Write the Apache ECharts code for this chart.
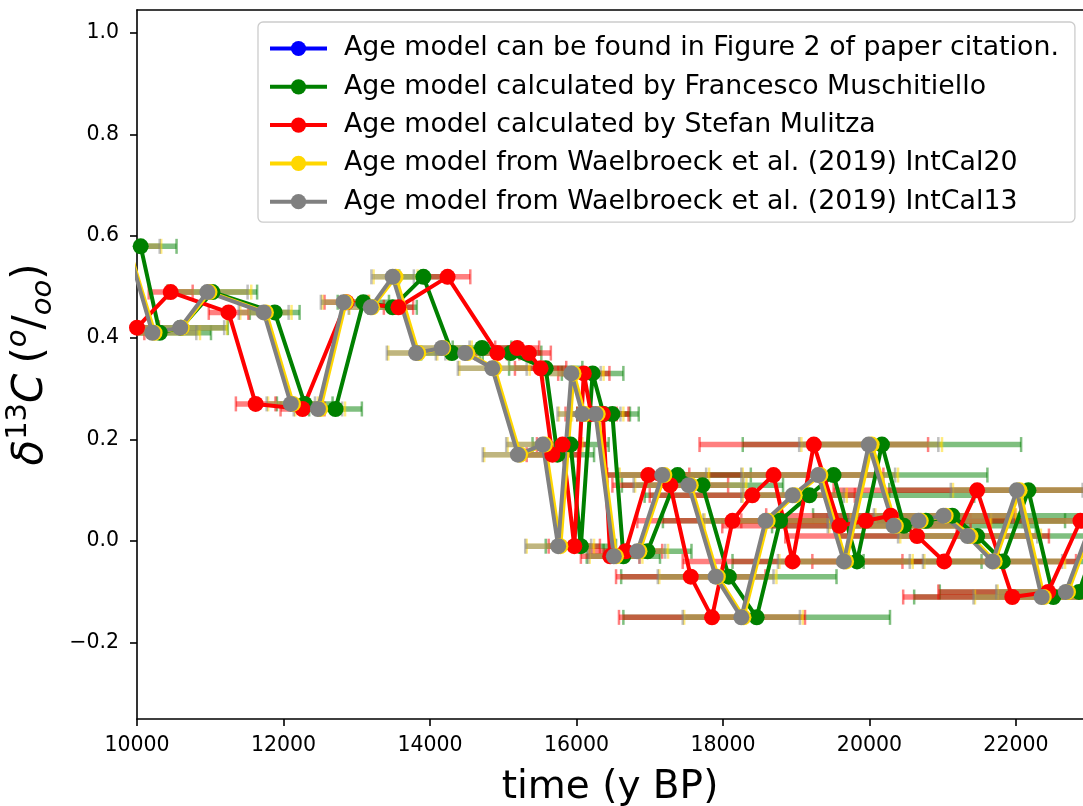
<!DOCTYPE html>
<html><head><meta charset="utf-8">
<script src="https://cdn.jsdelivr.net/npm/echarts@6/dist/echarts.min.js"></script>
<style>html,body{margin:0;padding:0;background:#fff}#c{width:1083px;height:806px}</style>
</head><body><div id="c"></div>
<script>
// ---------------- data ----------------
const seriesNames = [
  'Age model can be found in Figure 2 of paper citation.',
  'Age model calculated by Francesco Muschitiello',
  'Age model calculated by Stefan Mulitza',
  'Age model from Waelbroeck et al. (2019) IntCal20',
  'Age model from Waelbroeck et al. (2019) IntCal13'
];
const seriesColors = ['#0000ff', '#008000', '#ff0000', '#ffd700', '#808080'];
const xTicks = [10000, 12000, 14000, 16000, 18000, 20000, 22000];
const yTicks = [-0.2, 0.0, 0.2, 0.4, 0.6, 0.8, 1.0];

// d13C values (shared by all age models)
const d13C = [0.58, 0.41, 0.42, 0.49, 0.45, 0.27, 0.26, 0.47, 0.46, 0.52,
  0.37, 0.38, 0.37, 0.34, 0.17, 0.19, -0.01, 0.33, 0.25, 0.25,
  -0.03, -0.02, 0.13, 0.11, -0.07, -0.15, 0.04, 0.09, 0.13, -0.04,
  0.19, 0.03, 0.04, 0.05, 0.01, -0.04, 0.10, -0.11, -0.10, 0.04];

// Blue model: no points visible
const ageBlue = [];
const errBlue = [];

// Francesco Muschitiello (green)
const ageGreen = [10050, 10310, 10600, 11030, 11880, 12290, 12710, 13090, 13490, 13910,
  14300, 14710, 15100, 15580, 15740, 15920, 16060, 16220, 16370, 16490,
  16640, 16970, 17380, 17720, 18080, 18460, 18780, 19180, 19510, 19830,
  20170, 20470, 20770, 21130, 21470, 21820, 22170, 22510, 22860, 23200];
const errGreen = [490, 700, 640, 610, 340, 380, 360, 350, 330, 330,
  420, 400, 420, 500, 500, 520, 480, 420, 360, 360,
  500, 600, 1000, 1100, 1470, 1820, 1600, 2250, 2100, 1700,
  1900, 1800, 1900, 1900, 1900, 1900, 1900, 1900, 1900, 1900];

// Stefan Mulitza (red)
const ageRed = [9550, 9800, 10000, 10460, 11250, 11620, 12260, 12860, 13570, 14240,
  14920, 15190, 15350, 15510, 15670, 15810, 15970, 16100, 16200, 16360,
  16460, 16670, 16980, 17280, 17560, 17850, 18130, 18400, 18690, 18950,
  19240, 19590, 19950, 20290, 20650, 21020, 21470, 21950, 22440, 22880];
const errRed = [300, 300, 300, 300, 270, 270, 300, 300, 200, 310,
  300, 300, 300, 350, 350, 350, 350, 350, 350, 350,
  400, 500, 560, 790, 1020, 1270, 1300, 1400, 1500, 1500,
  1560, 1600, 1700, 1700, 1800, 1800, 1960, 1490, 1500, 1500];

// Waelbroeck IntCal20 (yellow)
const ageYellow = [9880, 10240, 10610, 10990, 11760, 12130, 12500, 12850, 13210, 13530,
  13840, 14180, 14510, 14880, 15230, 15570, 15780, 15960, 16110, 16290,
  16540, 16860, 17200, 17560, 17930, 18280, 18610, 18980, 19330, 19680,
  20030, 20360, 20700, 21040, 21380, 21710, 22050, 22380, 22710, 23070];
const errYellow = [450, 620, 620, 570, 350, 340, 340, 320, 310, 300,
  410, 390, 410, 480, 490, 510, 460, 410, 350, 350,
  360, 390, 610, 760, 800, 810, 860, 710, 1060, 910,
  960, 910, 960, 960, 960, 960, 910, 940, 960, 960];

// Waelbroeck IntCal13 (gray)
const ageGray = [9870, 10210, 10590, 10960, 11730, 12100, 12470, 12820, 13190, 13490,
  13810, 14160, 14480, 14850, 15200, 15540, 15750, 15930, 16080, 16260,
  16510, 16830, 17170, 17530, 17900, 18250, 18580, 18950, 19300, 19650,
  19990, 20330, 20670, 21010, 21340, 21680, 22010, 22350, 22680, 23040];
const errGray = [440, 600, 600, 550, 340, 330, 330, 310, 300, 290,
  400, 380, 400, 470, 480, 500, 450, 400, 340, 340,
  350, 380, 600, 750, 790, 800, 850, 700, 1050, 900,
  950, 900, 950, 950, 950, 950, 900, 930, 950, 950];

// ---------------- chart ----------------
const FONT = 'DejaVu Sans';
const ages = [ageBlue, ageGreen, ageRed, ageYellow, ageGray];
const errs = [errBlue, errGreen, errRed, errYellow, errGray];

function rgba(hex, a) {
  const r = parseInt(hex.slice(1, 3), 16), g = parseInt(hex.slice(3, 5), 16), b = parseInt(hex.slice(5, 7), 16);
  return 'rgba(' + r + ',' + g + ',' + b + ',' + a + ')';
}

function errSeries(k) {
  const col = rgba(seriesColors[k], 0.5);
  return {
    type: 'custom', name: 'err' + k, silent: true, clip: true, z: 1,
    encode: { x: 0, y: 1 },
    data: ages[k].map((a, i) => [a, d13C[i], errs[k][i]]),
    renderItem: function (params, api) {
      const x = api.value(0), y = api.value(1), e = api.value(2);
      const p1 = api.coord([x - e, y]), p2 = api.coord([x + e, y]);
      const h = 7.5;
      return {
        type: 'group', children: [
          { type: 'line', shape: { x1: p1[0], y1: p1[1], x2: p2[0], y2: p2[1] }, style: { stroke: col, lineWidth: 5.5 } },
          { type: 'line', shape: { x1: p1[0], y1: p1[1] - h, x2: p1[0], y2: p1[1] + h }, style: { stroke: col, lineWidth: 2.5 } },
          { type: 'line', shape: { x1: p2[0], y1: p2[1] - h, x2: p2[0], y2: p2[1] + h }, style: { stroke: col, lineWidth: 2.5 } }
        ]
      };
    }
  };
}

function lineSeries(k) {
  return {
    type: 'line', name: seriesNames[k], z: 3, clip: true,
    data: ages[k].map((a, i) => [a, d13C[i]]),
    symbol: 'circle', symbolSize: 16, showSymbol: true,
    color: seriesColors[k],
    itemStyle: { color: seriesColors[k] },
    lineStyle: { color: seriesColors[k], width: 4 },
    emphasis: { disabled: true }
  };
}

const series = [];
for (let k = 0; k < 5; k++) series.push(errSeries(k));
for (let k = 0; k < 5; k++) series.push(lineSeries(k));

const yFmt = v => (v < -1e-9 ? '\u2212' : '') + Math.abs(v).toFixed(1);
const xFmt = v => String(Math.round(v));

const option = {
  animation: false,
  backgroundColor: '#ffffff',
  grid: { left: 137, right: 0, top: 10, bottom: 87, outerBoundsMode: 'none', containLabel: false },
  legend: {
    data: seriesNames, orient: 'vertical', left: 258, top: 22,
    itemWidth: 57, itemHeight: 19, itemGap: 11.3,
    padding: [13, 16, 7, 10],
    lineStyle: { width: 4 },
    textStyle: { fontFamily: FONT, fontSize: 26.8, color: '#000', padding: [0, 0, 0, 12] },
    backgroundColor: 'rgba(255,255,255,0.8)', borderColor: '#cccccc', borderWidth: 1.3, borderRadius: 5,
    selectedMode: false
  },
  xAxis: [{
    type: 'value', min: 10000, max: 22915, position: 'bottom',
    axisLine: { onZero: false, lineStyle: { color: '#000', width: 1.6 } },
    axisTick: { customValues: xTicks, length: 7, lineStyle: { color: '#000', width: 1.6 } },
    axisLabel: { customValues: xTicks, formatter: xFmt, fontFamily: FONT, fontSize: 20.5, color: '#000', margin: 16 },
    splitLine: { show: false },
    name: 'time (y BP)', nameLocation: 'middle', nameGap: 49,
    nameTextStyle: { fontFamily: FONT, fontSize: 39, color: '#000' }
  }, {
    type: 'value', min: 10000, max: 22915, position: 'top',
    axisLine: { onZero: false, lineStyle: { color: '#000', width: 1.6 } },
    axisTick: { show: false }, axisLabel: { show: false }, splitLine: { show: false }
  }],
  yAxis: {
    type: 'value', min: -0.35, max: 1.045,
    axisLine: { show: true, onZero: false, lineStyle: { color: '#000', width: 1.6 } },
    axisTick: { show: true, customValues: yTicks, length: 7, lineStyle: { color: '#000', width: 1.6 } },
    axisLabel: { customValues: yTicks, formatter: yFmt, fontFamily: FONT, fontSize: 20.5, color: '#000', margin: 18 },
    splitLine: { show: false },
    name: '{it|\u03b4}{sup|13}{it|C}   {rm|(}{supit|o}{rm|/}{subit|oo}{rm|)}',
    nameLocation: 'middle', nameGap: 72, nameRotate: 90,
    nameTextStyle: {
      color: '#000',
      rich: {
        it: { fontFamily: FONT, fontStyle: 'italic', fontSize: 42, lineHeight: 54, verticalAlign: 'middle', color: '#000' },
        rm: { fontFamily: FONT, fontSize: 42, lineHeight: 54, verticalAlign: 'middle', color: '#000' },
        sup: { fontFamily: FONT, fontSize: 29, lineHeight: 29, verticalAlign: 'top', color: '#000' },
        supit: { fontFamily: FONT, fontStyle: 'italic', fontSize: 29, lineHeight: 29, verticalAlign: 'top', color: '#000' },
        subit: { fontFamily: FONT, fontStyle: 'italic', fontSize: 29, lineHeight: 29, verticalAlign: 'bottom', color: '#000' }
      }
    }
  },
  series: series
};

const chart = echarts.init(document.getElementById('c'), null, { renderer: 'canvas' });
chart.setOption(option);
</script>
</body></html>
